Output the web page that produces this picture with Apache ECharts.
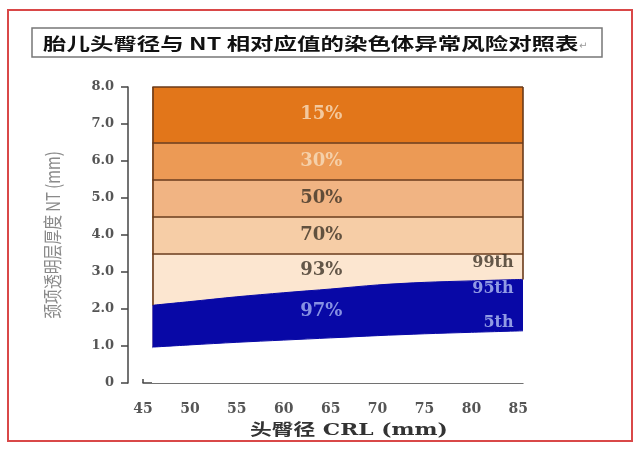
<!DOCTYPE html>
<html>
<head>
<meta charset="utf-8">
<script src="https://cdn.jsdelivr.net/npm/echarts@6/dist/echarts.min.js"></script>
<style>html,body{margin:0;padding:0;background:#fff}#c{width:640px;height:451px}</style>
</head>
<body>
<div id="c"></div>
<script>
// ---- data ----
const crl = [46, 50, 55, 60, 65, 70, 75, 80, 85.5];            // CRL (mm)
const p5  = [0.97, 1.03, 1.10, 1.16, 1.22, 1.28, 1.33, 1.37, 1.41]; // 5th percentile NT
const p95 = [2.10, 2.20, 2.33, 2.44, 2.54, 2.65, 2.72, 2.76, 2.80]; // 95th percentile NT
const bandTops = [3.5, 4.5, 5.5, 6.5, 8.0];                     // upper edges of risk bands
const bandRisk = ['93%', '70%', '50%', '30%', '15%'];
const blueRisk = '97%';
const xTicks = [45, 50, 55, 60, 65, 70, 75, 80, 85];
const yTickLabels = ['0', '1.0', '2.0', '3.0', '4.0', '5.0', '6.0', '7.0', '8.0'];
const pctLabels = ['99th', '95th', '5th'];

const bandColors = ['#FCE6D0', '#F6CDA6', '#F1B483', '#EC9A55', '#E2761A'];
const blue = '#0808A6';
const edge = '#6A3A1A';

const chart = echarts.init(document.getElementById('c'), null, {renderer: 'canvas'});

// Bands are painted from the top down; each area fills down to the axis origin
// and the next (lower) one is drawn over it.
const series = [];
for (let k = bandTops.length - 1; k >= 0; k--) {
  series.push({
    name: bandRisk[k], type: 'line', symbol: 'none', silent: true,
    data: crl.map(x => [x, bandTops[k]]),
    lineStyle: {width: 0, opacity: 0},
    areaStyle: {color: bandColors[k], opacity: 1, origin: 'start'}
  });
}
series.push({
  name: blueRisk, type: 'line', symbol: 'none', silent: true, smooth: 0.3,
  data: crl.map((x, i) => [x, p95[i]]),
  lineStyle: {color: blue, width: 1},
  areaStyle: {color: blue, opacity: 1, origin: 'start'}
});
series.push({
  name: '5th', type: 'line', symbol: 'none', silent: true, smooth: 0.3,
  data: crl.map((x, i) => [x, p5[i]]),
  lineStyle: {color: blue, width: 1},
  areaStyle: {color: '#fff', opacity: 1, origin: 'start'}
});
const last = crl.length - 1;
const yTop = bandTops[bandTops.length - 1];
series.push({
  type: 'line', data: [], silent: true, z: 5,
  markLine: {
    silent: true, symbol: ['none', 'none'], animation: false,
    label: {show: false},
    lineStyle: {color: edge, width: 1.6, type: 'solid'},
    data: bandTops.map(v => [{coord: [crl[0], v]}, {coord: [crl[last], v]}]).concat([
      [{coord: [crl[0], p95[0]]}, {coord: [crl[0], yTop]}],
      [{coord: [crl[last], p95[last]]}, {coord: [crl[last], yTop]}],
      // white cover for the anti-aliased area edges below the 5th percentile curve
      [{coord: [crl[0], 0], lineStyle: {color: '#fff', width: 2}}, {coord: [crl[0], p5[0] - 0.03]}],
      [{coord: [crl[last], 0], lineStyle: {color: '#fff', width: 2}}, {coord: [crl[last], p5[last] - 0.03]}]
    ])
  }
});

// text labels inside the bands
const midX = 64;
const lblFont = {fontFamily: 'DejaVu Serif', fontWeight: 'bold', fontSize: 18};
const bandLabelData = bandRisk.map((t, k) => {
  const y = k === 0 ? 3.05 : (bandTops[k - 1] + bandTops[k]) / 2;
  const light = k >= 3;
  return {value: [midX, y], name: t,
    label: Object.assign({color: light ? '#F8DDBE' : '#3C3226'}, lblFont)};
});
bandLabelData.push({value: [midX, (p95[4] + p5[4]) / 2 + 0.05], name: blueRisk,
  label: Object.assign({color: '#A8B4F2'}, lblFont)});
const rightX = 84.5;
const rightY = [3.24, 2.54, 1.62];
const rightData = pctLabels.map((t, k) => ({value: [rightX, rightY[k]], name: t,
  label: {position: 'left', distance: 0, align: 'right', color: k === 0 ? '#3C3226' : '#B4C0F4',
    fontFamily: 'DejaVu Serif', fontWeight: 'bold', fontSize: 16}}));

series.push({
  type: 'scatter', symbolSize: 0, silent: true, z: 6,
  data: bandLabelData,
  label: {show: true, position: 'inside', formatter: p => p.name}
});
series.push({
  type: 'scatter', symbolSize: 0, silent: true, z: 6,
  data: rightData,
  label: {show: true, formatter: p => p.name}
});

const option = {
  backgroundColor: '#fff',
  animation: false,
  grid: {left: 143, right: 117, top: 87, bottom: 68, containLabel: false},
  xAxis: {
    type: 'value', min: 45, max: 85.5, offset: 10,
    axisLine: {show: true, lineStyle: {color: '#444', width: 1.5}},
    axisTick: {show: true, inside: true, length: 4, customValues: xTicks, lineStyle: {color: '#444', width: 1.5}},
    axisLabel: {customValues: xTicks, margin: 9, color: '#555', fontFamily: 'DejaVu Serif', fontWeight: 'bold', fontSize: 14},
    splitLine: {show: false}
  },
  yAxis: {
    type: 'value', min: 0, max: 8, interval: 1, offset: 15,
    axisLine: {show: true, lineStyle: {color: '#444', width: 1.5}},
    axisTick: {show: true, length: 7, lineStyle: {color: '#444', width: 1.5}},
    axisLabel: {margin: 14, color: '#555', fontFamily: 'DejaVu Serif', fontWeight: 'bold', fontSize: 13,
      formatter: v => yTickLabels[Math.round(v)]},
    splitLine: {show: false}
  },
  graphic: [
    {type: 'rect', z: -1, shape: {x: 8, y: 10, width: 624, height: 431},
     style: {fill: 'none', stroke: '#D94848', lineWidth: 2}},
    {type: 'rect', shape: {x: 32, y: 28, width: 570, height: 29},
     style: {fill: '#fff', stroke: '#777', lineWidth: 1.5}},
    {type: 'text', x: 43, y: 44, scaleX: 1.38,
     style: {text: '胎儿头臀径与 NT 相对应值的染色体异常风险对照表', fill: '#111',
       font: 'bold 17px "Noto Sans CJK SC"', align: 'left', verticalAlign: 'middle'}},
    {type: 'text', x: 579, y: 46,
     style: {text: '↵', fill: '#999', font: '10px "DejaVu Sans"', align: 'left', verticalAlign: 'middle'}},
    {type: 'text', x: 53, y: 235, rotation: Math.PI / 2, scaleX: 0.78,
     style: {text: '颈项透明层厚度 NT (mm)', fill: '#8A8A8A',
       font: '19px "Noto Sans CJK SC", "DejaVu Serif"', align: 'center', verticalAlign: 'middle'}},
    {type: 'text', x: 250, y: 431, scaleX: 1.36,
     style: {text: '头臀径 CRL (mm)', fill: '#333',
       font: 'bold 16px "DejaVu Serif", "Noto Sans CJK SC"', align: 'left', verticalAlign: 'middle'}}
  ],
  series: series
};
chart.setOption(option);
</script>
</body>
</html>
